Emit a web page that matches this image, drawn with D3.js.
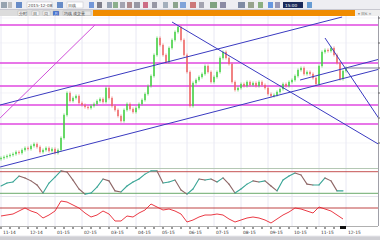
<!DOCTYPE html>
<html>
<head>
<meta charset="utf-8">
<script src="https://cdn.jsdelivr.net/npm/d3@7/dist/d3.min.js"></script>
<style>
  body { margin: 0; background: #fff; font-family: "DejaVu Sans", Arial, sans-serif; }
  svg { display: block; }
</style>
</head>
<body>
<div id="draw"></div>
<script>
// daily closes (one bar per trading day, Nov 2014 - Dec 2015)
var closes = [6.0, 6.1, 6.2, 6.3, 6.4, 6.6, 6.5, 6.8, 7.0, 6.9,
  7.2, 7.4, 7.1, 6.6, 6.8, 7.0, 6.7, 6.9, 6.5, 6.8,
  8.0, 10.3, 12.5, 11.7, 12.0, 12.2, 11.5, 11.3, 11.1, 11.0,
  11.2, 11.4, 11.7, 11.9, 11.6, 13.0, 12.0, 11.2, 10.8, 10.2,
  9.7, 10.8, 11.4, 10.9, 10.6, 11.0, 11.4, 11.8, 12.4, 13.2,
  14.2, 16.3, 18.0, 17.3, 16.3, 15.6, 17.0, 17.8, 18.6, 19.1,
  17.8, 16.3, 14.6, 11.2, 13.5, 13.8, 14.1, 14.4, 15.2, 14.6,
  13.6, 14.1, 14.6, 16.0, 16.6, 16.0, 15.4, 13.6, 12.8, 13.0,
  13.4, 13.2, 13.6, 13.3, 13.5, 13.2, 13.6, 13.3, 13.0, 12.4,
  12.2, 12.3, 12.6, 12.9, 13.4, 13.2, 13.6, 13.8, 14.2, 14.8,
  15.0, 14.4, 14.6, 14.4, 14.0, 13.4, 15.2, 16.6, 16.8, 16.7,
  17.0, 16.3, 15.5, 13.9, 14.7, 15.0];

// oscillators, one value every 2nd bar
var osc1 = [37, 48, 52, 74, 67, 56, 41, 11, 48, 70, 93, 89, 59, 26, 7, 11, 33, 63, 56, 19,
  15, 37, 52, 63, 81, 93, 93, 48, 52, 59, 22, 7, 26, 63, 59, 63, 52, 67, 44, 11,
  26, 44, 56, 52, 56, 37, 19, 59, 74, 85, 78, 44, 41, 41, 67, 56, 19, 19];
var osc2 = [30, 32.5, 35, 42.5, 50, 42.5, 37.5, 25, 32.5, 42.5, 67.5, 65, 57.5, 50, 37.5, 27.5, 32.5, 42.5, 35, 17.5,
  17.5, 30, 27.5, 37.5, 45, 60, 52.5, 45, 47.5, 42.5, 35, 15, 20, 27.5, 32.5, 32.5, 35, 32.5, 22.5, 15,
  20, 25, 27.5, 25, 20, 12.5, 22.5, 32.5, 40, 50, 47.5, 42.5, 37.5, 52.5, 47.5, 42.5, 32.5, 22.5];

var monthTicks = [0, 9, 18, 27, 36, 45, 53, 62, 71, 80, 89, 97, 106, 115];
var monthLabels = ["11-14", "12-14", "01-15", "02-15", "03-15", "04-15", "05-15",
  "06-15", "07-15", "08-15", "09-15", "10-15", "11-15", "12-15"];
var priceTicks = [7.5, 10, 12.5, 15, 17.5, 20];

// drawn lines: horizontal levels and [bar0, price0, bar1, price1]
var levels = [19.3, 15.5, 13.2, 11.3, 9.4];
var magentaLines = [[-0.3, 10.0, 31.3, 19.3]];
var blueLines = [[-0.3, 11.3, 113.7, 20.1], [-0.3, 5.1, 126.3, 14.9], [99.7, 13.8, 126.3, 15.9],
  [57, 19.6, 126.3, 7.3], [108, 18.0, 126.3, 9.8]];
var osc1Bands = [90, 10];
var osc2Band = [50];

var W = 380, H = 240;
var svg = d3.select('#draw').append('svg').attr('width', W).attr('height', H);

var x = d3.scaleLinear().domain([0, 126]).range([1, 379]);
var y = d3.scaleLinear().domain([5, 20.3]).range([168, 15]);
var y1 = d3.scaleLinear().domain([0, 100]).range([196, 169]);
var y2 = d3.scaleLinear().domain([5, 80]).range([226, 196]);

// ---- toolbar ----
svg.append('rect').attr('x', 0).attr('y', 0).attr('width', W).attr('height', 10).attr('fill', '#eeeef2');
svg.append('line').attr('x1', 0).attr('x2', W).attr('y1', 9.5).attr('y2', 9.5).attr('stroke', '#c8c8d0');
var icons = [[1, 6, '#7a8a9a'], [8, 4, '#b0b0b0'], [16, 6, '#3a6ab8'], [57, 6, '#3a6ab8'],
  [89, 5, '#4a7ad0'], [97, 5, '#5a5a6a'], [107, 5, '#7a8aa0'], [113, 5, '#6a9a6a'], [120, 5, '#8a8a9a'],
  [127, 5, '#9a6a6a'], [134, 6, '#7a7a8a'], [143, 5, '#c04060'], [152, 5, '#7a7a8a'], [163, 5, '#8a9aaa'],
  [173, 5, '#6a8a6a'], [180, 6, '#5a8ad0'], [190, 6, '#c05050'], [199, 5, '#8a8a9a'], [210, 7, '#5a8a5a'],
  [220, 6, '#6a6a8a'], [238, 7, '#5a6a8a'], [248, 6, '#7a8a6a'], [258, 5, '#6a9a5a'], [268, 5, '#3a7ad8'],
  [275, 5, '#7a7aa0'], [307, 5, '#3a80c8']];
svg.append('g').selectAll('rect').data(icons).join('rect')
  .attr('x', d => d[0]).attr('y', 2).attr('width', d => d[1]).attr('height', 6)
  .attr('fill', d => d[2]).attr('opacity', 0.75);
svg.append('rect').attr('x', 27).attr('y', 2).attr('width', 25).attr('height', 6).attr('fill', '#fff').attr('stroke', '#c0c0c8').attr('stroke-width', 0.5);
svg.append('text').attr('x', 28).attr('y', 6.8).attr('font-size', 4.2).attr('fill', '#444').text('2015-12-08');
svg.append('rect').attr('x', 67).attr('y', 2).attr('width', 16).attr('height', 6).attr('fill', '#fff').attr('stroke', '#c0c0c8').attr('stroke-width', 0.5);
svg.append('text').attr('x', 68).attr('y', 6.8).attr('font-size', 4.2).attr('fill', '#444').text('日线');
svg.append('rect').attr('x', 283).attr('y', 2).attr('width', 20).attr('height', 6).attr('fill', '#1a2a5a');
svg.append('text').attr('x', 285).attr('y', 6.8).attr('font-size', 4.2).attr('fill', '#fff').text('15:00');

// tab row
svg.append('rect').attr('x', 0).attr('y', 10).attr('width', W).attr('height', 6).attr('fill', '#dcdcdc');
svg.append('rect').attr('x', 93).attr('y', 10).attr('width', 262).attr('height', 6).attr('fill', '#f08c00');
svg.append('rect').attr('x', 355).attr('y', 10).attr('width', 25).attr('height', 6).attr('fill', '#eeeeee');
var tabs = [[18, 9, '#f4f4f4', '分时'], [32, 7, '#f4f4f4', '日'], [43, 7, '#f4f4f4', '周'], [53, 6, '#3a6ad0', '月'], [63, 28, '#e8e8e8', '均线 成交量']];
var tg = svg.append('g').selectAll('g').data(tabs).join('g');
tg.append('rect').attr('x', d => d[0]).attr('y', 11).attr('width', d => d[1]).attr('height', 4.5).attr('fill', d => d[2]).attr('stroke', '#a8a8a8').attr('stroke-width', 0.4);
tg.append('text').attr('x', d => d[0] + 1).attr('y', 14.8).attr('font-size', 3.6)
  .attr('fill', d => d[2] === '#3a6ad0' ? '#fff' : '#333').text(d => d[3]);
svg.append('text').attr('x', 358).attr('y', 14.8).attr('font-size', 3.6).attr('fill', '#666').text('▾ 日K ×');

// ---- main chart ----
svg.append('defs').append('clipPath').attr('id', 'clipMain')
  .append('rect').attr('x', 0).attr('y', 16).attr('width', 378).attr('height', 152);

var grid = svg.append('g');
grid.selectAll('line.v').data(monthTicks).join('line').attr('class', 'v')
  .attr('x1', d => x(d)).attr('x2', d => x(d)).attr('y1', 16).attr('y2', 226)
  .attr('stroke', '#e2e2f0').attr('stroke-width', 0.8);
grid.selectAll('line.h').data(priceTicks).join('line').attr('class', 'h')
  .attr('x1', 0).attr('x2', 378).attr('y1', d => y(d)).attr('y2', d => y(d))
  .attr('stroke', '#ececf4').attr('stroke-width', 0.6);

var main = svg.append('g').attr('clip-path', 'url(#clipMain)');

main.selectAll('line.lvl').data(levels).join('line').attr('class', 'lvl')
  .attr('x1', 0).attr('x2', 378).attr('y1', d => y(d)).attr('y2', d => y(d))
  .attr('stroke', '#e048e0').attr('stroke-width', 1.3);

main.selectAll('line.mag').data(magentaLines).join('line').attr('class', 'mag')
  .attr('x1', d => x(d[0])).attr('y1', d => y(d[1])).attr('x2', d => x(d[2])).attr('y2', d => y(d[3]))
  .attr('stroke', '#d050d8').attr('stroke-width', 1);

// candles: open is the previous close
var bars = closes.map(function(c, i) {
  var o = i > 0 ? closes[i - 1] : c - 0.1;
  return { i: i, o: o, c: c };
});
main.selectAll('line.wick').data(bars).join('line').attr('class', 'wick')
  .attr('x1', d => x(d.i)).attr('x2', d => x(d.i))
  .attr('y1', d => y(Math.max(d.o, d.c)) - 1.5).attr('y2', d => y(Math.min(d.o, d.c)) + 1.5)
  .attr('stroke', d => d.c >= d.o ? '#44d044' : '#ee6464').attr('stroke-width', 0.7);
main.selectAll('rect.body').data(bars).join('rect').attr('class', 'body')
  .attr('x', d => x(d.i) - 0.7).attr('width', 1.4)
  .attr('y', d => y(Math.max(d.o, d.c)))
  .attr('height', d => Math.max(1, Math.abs(y(d.o) - y(d.c))))
  .attr('fill', d => d.c >= d.o ? '#44d044' : '#ee6464');

main.selectAll('line.blue').data(blueLines).join('line').attr('class', 'blue')
  .attr('x1', d => x(d[0])).attr('y1', d => y(d[1])).attr('x2', d => x(d[2])).attr('y2', d => y(d[3]))
  .attr('stroke', '#3a3ac0').attr('stroke-width', 1);

// last price line
var last = closes[closes.length - 1];
main.append('line').attr('x1', x(closes.length - 1)).attr('x2', 378)
  .attr('y1', y(last)).attr('y2', y(last)).attr('stroke', '#6a6a8a').attr('stroke-width', 0.8);

svg.append('line').attr('x1', 0).attr('x2', 378).attr('y1', 168.5).attr('y2', 168.5).attr('stroke', '#b4c8b4');

// right axis
svg.append('line').attr('x1', 378.5).attr('x2', 378.5).attr('y1', 16).attr('y2', 226).attr('stroke', '#a0a0a8');
svg.append('g').selectAll('line').data(priceTicks).join('line')
  .attr('x1', 378).attr('x2', 381).attr('y1', d => y(d)).attr('y2', d => y(d)).attr('stroke', '#666');

// ---- oscillator 1 ----
var p1 = svg.append('g');
p1.selectAll('line.band').data(osc1Bands).join('line').attr('class', 'band')
  .attr('x1', 0).attr('x2', 378).attr('y1', d => y1(d)).attr('y2', d => y1(d))
  .attr('stroke', (d, i) => i === 0 ? '#c04040' : '#5aa05a').attr('stroke-width', 0.9);
var seg1 = d3.pairs(osc1.map((v, k) => ({ i: k * 2, v: v })));
p1.selectAll('line.k').data(seg1).join('line').attr('class', 'k')
  .attr('x1', d => x(d[0].i)).attr('y1', d => y1(d[0].v)).attr('x2', d => x(d[1].i)).attr('y2', d => y1(d[1].v))
  .attr('stroke', d => d[1].v >= d[0].v ? '#3aa596' : '#8e6666').attr('stroke-width', 1.1)
  .attr('stroke-linecap', 'round');

svg.append('line').attr('x1', 0).attr('x2', 378).attr('y1', 196.5).attr('y2', 196.5).attr('stroke', '#e4e4ec');

// ---- oscillator 2 ----
var p2 = svg.append('g');
p2.selectAll('line.band').data(osc2Band).join('line').attr('class', 'band')
  .attr('x1', 0).attr('x2', 378).attr('y1', d => y2(d)).attr('y2', d => y2(d))
  .attr('stroke', '#b83030').attr('stroke-width', 0.9);
p2.append('path').datum(osc2)
  .attr('d', d3.line().x((v, k) => x(k * 2)).y(v => y2(v)))
  .attr('fill', 'none').attr('stroke', '#e82430').attr('stroke-width', 0.9);

// ---- date axis ----
svg.append('line').attr('x1', 0).attr('x2', 378).attr('y1', 226.5).attr('y2', 226.5).attr('stroke', '#b0b0b0');
svg.append('g').selectAll('line').data(d3.range(0, closes.length, 3)).join('line')
  .attr('x1', d => x(d)).attr('x2', d => x(d)).attr('y1', 227).attr('y2', 229)
  .attr('stroke', '#222').attr('stroke-width', 0.9);
svg.append('g').selectAll('text').data(monthTicks).join('text')
  .attr('x', d => x(d) + 2).attr('y', 234).attr('font-size', 4.4).attr('fill', '#333')
  .text((d, i) => monthLabels[i]);
svg.append('rect').attr('x', x(closes.length - 3)).attr('y', 226).attr('width', 6).attr('height', 3).attr('fill', '#111');

// bottom scroll bar
svg.append('rect').attr('x', 0).attr('y', 236).attr('width', W).attr('height', 4).attr('fill', '#cfcfd4');
svg.append('line').attr('x1', 0).attr('x2', W).attr('y1', 236).attr('y2', 236).attr('stroke', '#e8e8ec');
</script>
</body>
</html>
